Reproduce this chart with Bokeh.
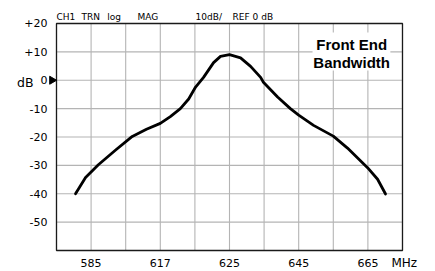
import math
from bokeh.plotting import figure
from bokeh.models import Range1d
from bokeh.core.properties import value
from bokeh.embed import file_html
from bokeh.resources import INLINE

# Curve: x in grid divisions (0..10), y in dB
div_x = [0.55, 0.84, 1.21, 1.71, 2.19, 2.6, 3.0, 3.29, 3.58, 3.82, 4.02, 4.25,
         4.54, 4.74, 5.0, 5.32, 5.61, 5.9, 5.98, 6.39, 6.76, 7.0, 7.43, 8.0,
         8.41, 8.99, 9.28, 9.51]
gain_db = [-40.0, -34.3, -29.8, -24.6, -19.8, -17.3, -15.2, -12.8, -10.0, -6.6,
           -2.4, 1.0, 6.2, 8.4, 9.0, 7.9, 4.9, 1.0, -0.7, -5.9, -10.0, -12.3,
           -15.9, -19.7, -23.9, -30.8, -34.9, -40.1]

# grid / scale
x_divisions = list(range(0, 11))          # 10 horizontal divisions
y_levels = list(range(-60, 21, 10))       # dB grid, 10 dB/div
x_tick_pos = [1, 3, 5, 7, 9]
x_tick_labels = ["585", "617", "625", "645", "665"]
y_tick_pos = [20, 10, 0, -10, -20, -30, -40, -50]
y_tick_labels = ["+20", "+10", "0", "-10", "-20", "-30", "-40", "-50"]
header_x = [0.0, 0.72, 1.47, 2.34, 4.02, 5.09]
header_text = ["CH1", "TRN", "log", "MAG", "10dB/", "REF 0 dB"]
title_lines = ["Front End", "Bandwidth"]
title_y = [12.67, 6.36]

X0, X1 = x_divisions[0], x_divisions[-1]
Y0, Y1 = y_levels[0], y_levels[-1]

TICK_FONT = value("DejaVu Sans")

p = figure(width=435, height=271,
           x_range=Range1d(-1.6185, 10.954), y_range=Range1d(-67.4, 28.1),
           x_axis_type=None, y_axis_type=None,
           output_backend="svg", toolbar_location=None,
           min_border_left=0, min_border_right=0, min_border_top=0, min_border_bottom=0)
p.outline_line_color = None
p.background_fill_color = "white"
p.border_fill_color = "white"
p.grid.visible = False

# grid lines
p.segment(x0=x_divisions, y0=[Y0] * len(x_divisions), x1=x_divisions, y1=[Y1] * len(x_divisions),
          line_color="#b4b4b4", line_width=1.1)
p.segment(x0=[X0] * len(y_levels), y0=y_levels, x1=[X1] * len(y_levels), y1=y_levels,
          line_color="#b4b4b4", line_width=1.1)
# plot box
p.quad(left=[X0], right=[X1], bottom=[Y0], top=[Y1], fill_color=None,
       line_color="#1a1a1a", line_width=1.3)

# white patch behind the title
p.quad(left=[7.4], right=[9.65], bottom=[3.4], top=[16.8], fill_color="white",
       line_color=None)

# response curve
p.line(div_x, gain_db, line_width=2.8, color="black", line_join="round", line_cap="round")

# y tick labels
p.text(x=[-0.26] * len(y_tick_pos), y=y_tick_pos, text=y_tick_labels,
       text_font=TICK_FONT, text_font_size=value("11px"), text_color="black",
       text_align="right", text_baseline="middle")
# x tick labels
p.text(x=x_tick_pos, y=[-64.3] * len(x_tick_pos), text=x_tick_labels,
       text_font=TICK_FONT, text_font_size=value("11px"), text_color="black",
       text_align="center", text_baseline="middle")
# unit
p.text(x=[9.68], y=[-64.3], text=["MHz"], text_font=TICK_FONT,
       text_font_size=value("12px"), text_color="black",
       text_align="left", text_baseline="middle")

# header texts
p.text(x=header_x, y=[22.3] * len(header_x), text=header_text,
       text_font=TICK_FONT, text_font_size=value("9px"), text_color="black",
       text_align="left", text_baseline="middle")

# dB marker with reference arrow
p.text(x=[-0.665], y=[-0.8], text=["dB"], text_font=TICK_FONT,
       text_font_size=value("12.5px"), text_color="black",
       text_align="right", text_baseline="middle")
p.scatter(x=[-0.13], y=[0], marker="triangle", size=8, angle=-math.pi / 2,
          fill_color="black", line_color="black")

# title
p.text(x=[8.53] * len(title_lines), y=title_y, text=title_lines,
       text_font=value("Liberation Sans"), text_font_size=value("15px"),
       text_font_style="bold", text_color="black",
       text_align="center", text_baseline="middle")

open("out.html", "w").write(file_html(p, INLINE))
